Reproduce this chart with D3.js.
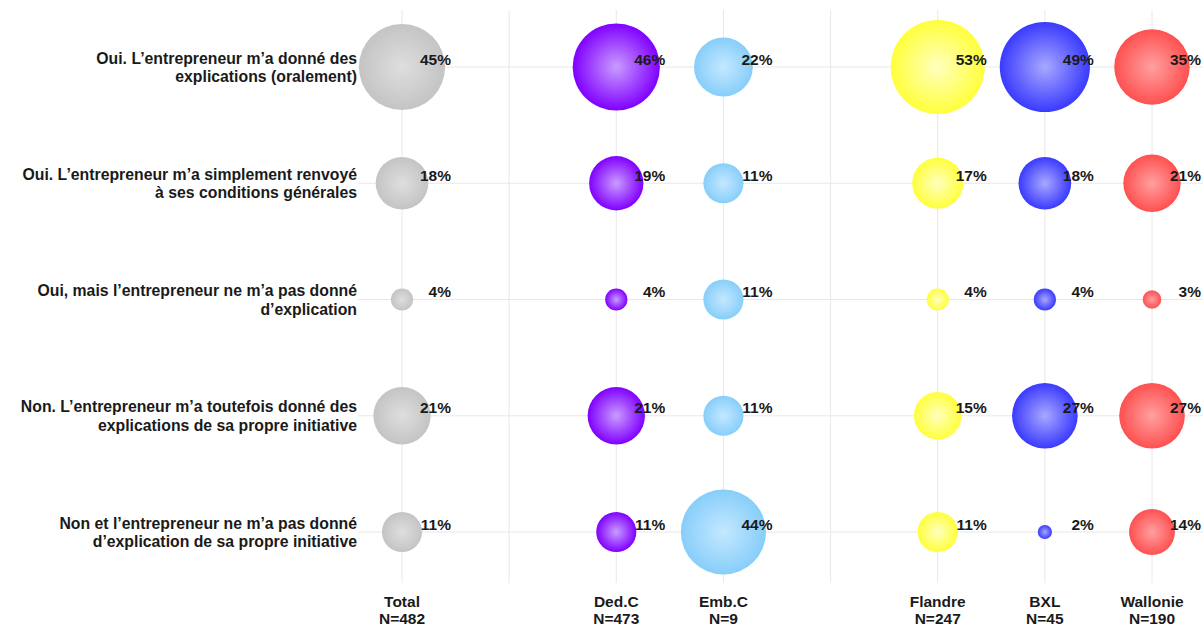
<!DOCTYPE html>
<html>
<head>
<meta charset="utf-8">
<script src="https://cdn.jsdelivr.net/npm/d3@7"></script>
<style>
  body { margin: 0; background: #fff; }
  text { font-family: "Liberation Sans", Arial, sans-serif; font-weight: bold; fill: #1a1a1a; }
</style>
</head>
<body>
<div id="bubble_chart"></div>
<script>
// columns (blank slots are the gaps between groups)
const slots = ["Total", "gap1", "Ded.C", "Emb.C", "gap2", "Flandre", "BXL", "Wallonie"];
const groups = ["Total", "Ded.C", "Emb.C", "Flandre", "BXL", "Wallonie"];
const groupN = [482, 473, 9, 247, 45, 190];

// rows, two lines each
const answers = [
    ["Oui. L\u2019entrepreneur m\u2019a donné des", "explications (oralement)"],
    ["Oui. L\u2019entrepreneur m\u2019a simplement renvoyé", "à ses conditions générales"],
    ["Oui, mais l\u2019entrepreneur ne m\u2019a pas donné", "d\u2019explication"],
    ["Non. L\u2019entrepreneur m\u2019a toutefois donné des", "explications de sa propre initiative"],
    ["Non et l\u2019entrepreneur ne m\u2019a pas donné", "d\u2019explication de sa propre initiative"]
];

// percentages, one array per group, in row order
const totalVals    = [45, 18, 4, 21, 11];
const dedcVals     = [46, 19, 4, 21, 11];
const embcVals     = [22, 11, 11, 11, 44];
const flandreVals  = [53, 17, 4, 15, 11];
const bxlVals      = [49, 18, 4, 27, 2];
const wallonieVals = [35, 21, 3, 27, 14];

const seriesVals = [totalVals, dedcVals, embcVals, flandreVals, bxlVals, wallonieVals];
const colors = [
    {edge: "#c4c4c4", mid: "#dedede"},
    {edge: "#8000ff", mid: "#c99cff"},
    {edge: "#87cefa", mid: "#c4e8ff"},
    {edge: "#ffff3c", mid: "#ffffbf"},
    {edge: "#3a3aff", mid: "#a8a8ff"},
    {edge: "#ff5050", mid: "#ffa0a0"}
];

const width = 1203, height = 628;

const svg = d3.select("#bubble_chart")
    .append("svg")
    .attr("width", width)
    .attr("height", height);

const rowIds = answers.map(function(d, i) { return i; });

const x = d3.scalePoint()
    .domain(slots)
    .range([402, 1152]);

const y = d3.scalePoint()
    .domain(rowIds)
    .range([67, 532]);

// radius: area-ish scaling
const r = d3.scaleSqrt()
    .domain([0, 53])
    .range([-2.5, 47]);

// gradients
const defs = svg.append("defs");
colors.forEach(function(c, i) {
    const g = defs.append("radialGradient")
        .attr("id", "grad" + i)
        .attr("cx", "50%").attr("cy", "50%").attr("r", "50%");
    g.append("stop").attr("offset", "0%").attr("stop-color", c.mid);
    g.append("stop").attr("offset", "100%").attr("stop-color", c.edge);
});

// grid
svg.append("g")
    .selectAll("line")
    .data(slots)
    .join("line")
    .attr("x1", function(d) { return x(d); })
    .attr("x2", function(d) { return x(d); })
    .attr("y1", 10)
    .attr("y2", 583)
    .attr("stroke", "#e8e8e8")
    .attr("stroke-width", 1);

svg.append("g")
    .selectAll("line")
    .data(rowIds)
    .join("line")
    .attr("x1", 358)
    .attr("x2", width)
    .attr("y1", function(d) { return y(d); })
    .attr("y2", function(d) { return y(d); })
    .attr("stroke", "#e8e8e8")
    .attr("stroke-width", 1);

// flat list of points
const points = [];
groups.forEach(function(g, gi) {
    seriesVals[gi].forEach(function(v, ri) {
        points.push({group: g, gi: gi, row: ri, value: v});
    });
});

svg.append("g")
    .selectAll("circle")
    .data(points)
    .join("circle")
    .attr("cx", function(d) { return x(d.group); })
    .attr("cy", function(d) { return y(d.row); })
    .attr("r", function(d) { return r(d.value); })
    .attr("fill", function(d) { return "url(#grad" + d.gi + ")"; });

svg.append("g")
    .selectAll("text")
    .data(points)
    .join("text")
    .attr("x", function(d) { return x(d.group) + 49; })
    .attr("y", function(d) { return y(d.row) - 2.5; })
    .attr("text-anchor", "end")
    .style("font-size", "15.5px")
    .text(function(d) { return d.value + "%"; });

// row labels
const rowLabels = svg.append("g")
    .selectAll("text")
    .data(answers)
    .join("text")
    .attr("text-anchor", "end")
    .style("font-size", "15.8px");

rowLabels.selectAll("tspan")
    .data(function(d, i) { return d.map(function(t, k) { return {t: t, k: k, row: i}; }); })
    .join("tspan")
    .attr("x", 357)
    .attr("y", function(d) { return y(d.row) - 3.5 + d.k * 18.5; })
    .text(function(d) { return d.t; });

// column labels
const colLabels = svg.append("g")
    .selectAll("text")
    .data(groups)
    .join("text")
    .attr("text-anchor", "middle")
    .style("font-size", "15.5px");

colLabels.append("tspan")
    .attr("x", function(d) { return x(d); })
    .attr("y", 607)
    .text(function(d) { return d; });

colLabels.append("tspan")
    .attr("x", function(d) { return x(d); })
    .attr("y", 624)
    .text(function(d, i) { return "N=" + groupN[i]; });
</script>
</body>
</html>
